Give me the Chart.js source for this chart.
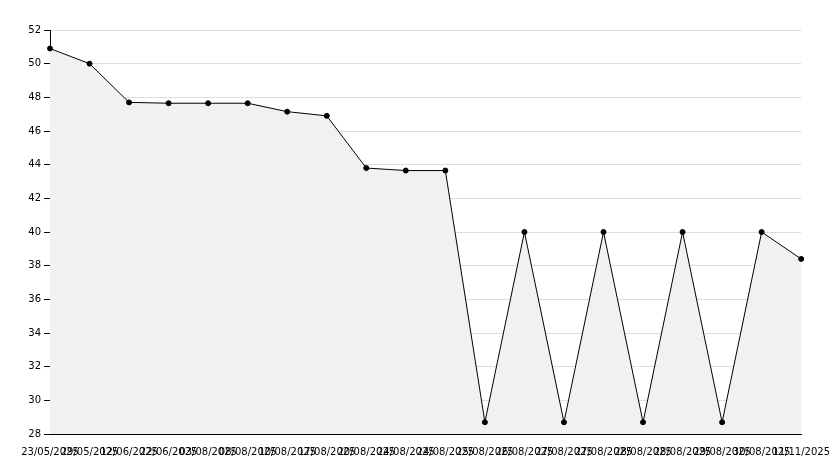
<!DOCTYPE html>
<html>
<head>
<meta charset="utf-8">
<script src="https://cdn.jsdelivr.net/npm/chart.js@4"></script>
<style>
  html, body { margin: 0; padding: 0; background: #fff; }
  #wrap { width: 834px; height: 468px; }
</style>
</head>
<body>
<div id="wrap"><canvas id="c"></canvas></div>
<script>
const labels = ["23/05/2025", "29/05/2025", "12/06/2025", "22/06/2025", "03/08/2025", "08/08/2025",
  "10/08/2025", "17/08/2025", "20/08/2025", "24/08/2025", "24/08/2025", "25/08/2025", "26/08/2025",
  "27/08/2025", "27/08/2025", "28/08/2025", "28/08/2025", "29/08/2025", "30/08/2025", "11/11/2025"];
const values = [50.9, 50.0, 47.7, 47.65, 47.65, 47.65, 47.15, 46.9, 43.8, 43.65, 43.65,
  28.7, 40, 28.7, 40, 28.7, 40, 28.7, 40, 38.4];

Chart.defaults.font.family = "'DejaVu Sans', sans-serif";
Chart.defaults.font.size = 10;
Chart.defaults.color = "#000";

new Chart(document.getElementById("c"), {
  type: "line",
  data: {
    labels: labels,
    datasets: [{
      data: values,
      borderColor: "#000",
      borderWidth: 1,
      backgroundColor: "#f1f1f1",
      fill: "start",
      tension: 0,
      pointRadius: 2.5,
      pointBackgroundColor: "#000",
      pointBorderColor: "#000"
    }]
  },
  options: {
    responsive: true,
    maintainAspectRatio: false,
    animation: false,
    layout: { padding: { left: 0, right: 21, top: 30, bottom: 6 } },
    plugins: { legend: { display: false }, tooltip: { enabled: false } },
    scales: {
      x: {
        offset: false,
        grid: { display: false },
        border: { color: "#000" },
        ticks: { autoSkip: false, maxRotation: 0, minRotation: 0, padding: 4 }
      },
      y: {
        min: 28, max: 52,
        afterFit: s => { s.width = 50; },
        grid: { color: "#dddddd", tickLength: 6, tickColor: "#000" },
        border: { color: "#000" },
        ticks: { stepSize: 2 }
      }
    }
  }
});
</script>
</body>
</html>
